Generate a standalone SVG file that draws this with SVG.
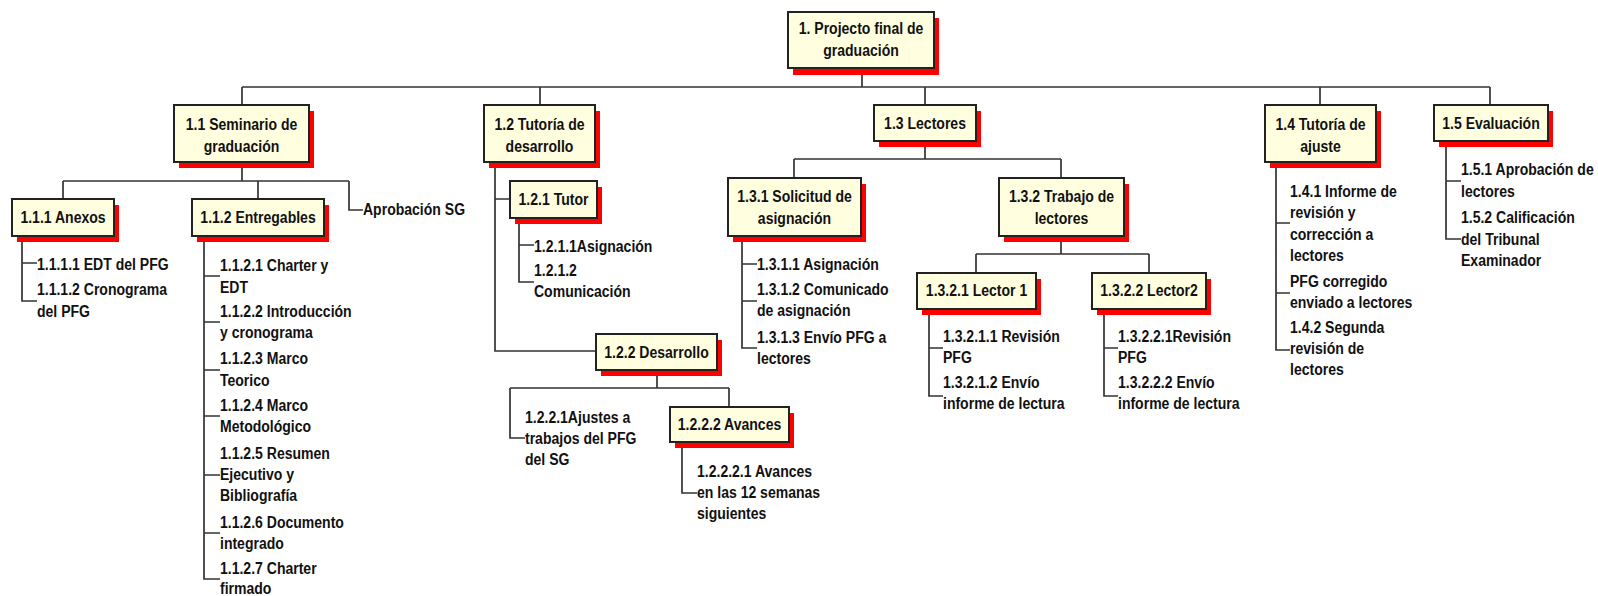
<svg xmlns="http://www.w3.org/2000/svg" width="1598" height="596" viewBox="0 0 1598 596">
  <style>
    .box { fill: #FFFFE0; stroke: #222; stroke-width: 2; }
    .shadow { fill: #FF0000; }
    .wire { fill: none; stroke: #333; stroke-width: 1.7; }
    text { font-family: "Liberation Sans", Arial, sans-serif; font-size: 17px; font-weight: bold; fill: #111;
           transform-box: fill-box; transform-origin: 0% 50%; transform: scaleX(0.825); }
    text.c { text-anchor: middle; transform-origin: 50% 50%; }
  </style>
  <rect width="1598" height="596" fill="#fff"/>

  <!-- connectors -->
  <g id="connectors" class="wire">
    <!-- root to level 1 -->
    <path d="M862 68V87M242 87H1490M242 87V105M540 87V105M925 87V105M1320 87V105M1490 87V105"/>
    <!-- 1.1 -->
    <path d="M242 162V181M63 181H349M63 181V199M258 181V199M349 181V210H363"/>
    <path d="M22 236V301H37M22 263H37"/>
    <path d="M204 236V579H220M204 276H220M204 322H220M204 370H220M204 416H220M204 475H220M204 533H220"/>
    <!-- 1.2 -->
    <path d="M495 162V351H596M495 199H510"/>
    <path d="M519 218V282H534M519 245H534"/>
    <path d="M657 370V388M510 388H729M510 388V438H525M729 388V407"/>
    <path d="M682 442V493H697"/>
    <!-- 1.3 -->
    <path d="M925 141V159M794 159H1061M794 159V178M1061 159V178"/>
    <path d="M742 236V348H757M742 264H757M742 301H757"/>
    <path d="M1061 236V254M976 254H1149M976 254V273M1149 254V273"/>
    <path d="M929 309V396H943M929 348H943"/>
    <path d="M1104 309V396H1118M1104 348H1118"/>
    <!-- 1.4 -->
    <path d="M1276 162V350H1290M1276 223H1290M1276 293H1290"/>
    <!-- 1.5 -->
    <path d="M1446 141V239H1461M1446 181H1461"/>
  </g>

  <!-- level 0 -->
  <g id="n1">
    <rect class="shadow" x="793" y="18" width="146" height="57"/>
    <rect class="box" x="788" y="12" width="146" height="56"/>
    <text class="c" x="861" y="34">1. Projecto final de</text>
    <text class="c" x="861" y="56">graduación</text>
  </g>

  <!-- level 1 -->
  <g id="n1-1">
    <rect class="shadow" x="179" y="111" width="135" height="57"/>
    <rect class="box" x="174" y="105" width="135" height="57"/>
    <text class="c" x="241.5" y="130">1.1 Seminario de</text>
    <text class="c" x="241.5" y="152">graduación</text>
  </g>
  <g id="n1-2">
    <rect class="shadow" x="489" y="111" width="111" height="57"/>
    <rect class="box" x="484" y="105" width="111" height="57"/>
    <text class="c" x="539.5" y="130">1.2 Tutoría de</text>
    <text class="c" x="539.5" y="152">desarrollo</text>
  </g>
  <g id="n1-3">
    <rect class="shadow" x="879" y="111" width="102" height="36"/>
    <rect class="box" x="874" y="105" width="102" height="36"/>
    <text class="c" x="925" y="129">1.3 Lectores</text>
  </g>
  <g id="n1-4">
    <rect class="shadow" x="1270" y="111" width="111" height="57"/>
    <rect class="box" x="1265" y="105" width="111" height="57"/>
    <text class="c" x="1320.5" y="130">1.4 Tutoría de</text>
    <text class="c" x="1320.5" y="152">ajuste</text>
  </g>
  <g id="n1-5">
    <rect class="shadow" x="1439" y="111" width="114" height="36"/>
    <rect class="box" x="1434" y="105" width="114" height="36"/>
    <text class="c" x="1491" y="129">1.5 Evaluación</text>
  </g>

  <!-- 1.1 branch -->
  <g id="n1-1-1">
    <rect class="shadow" x="17" y="205" width="102" height="37"/>
    <rect class="box" x="12" y="199" width="102" height="37"/>
    <text class="c" x="63" y="223">1.1.1 Anexos</text>
  </g>
  <g id="n1-1-1-x">
    <text x="37" y="270">1.1.1.1 EDT del PFG</text>
    <text x="37" y="295">1.1.1.2 Cronograma</text>
    <text x="37" y="317">del PFG</text>
  </g>
  <g id="n1-1-2">
    <rect class="shadow" x="197" y="205" width="132" height="37"/>
    <rect class="box" x="192" y="199" width="132" height="37"/>
    <text class="c" x="258" y="223">1.1.2 Entregables</text>
  </g>
  <g id="n1-1-2-x">
    <text x="220" y="271">1.1.2.1 Charter y</text>
    <text x="220" y="293">EDT</text>
    <text x="220" y="317">1.1.2.2 Introducción</text>
    <text x="220" y="338">y cronograma</text>
    <text x="220" y="364">1.1.2.3 Marco</text>
    <text x="220" y="386">Teorico</text>
    <text x="220" y="411">1.1.2.4 Marco</text>
    <text x="220" y="432">Metodológico</text>
    <text x="220" y="459">1.1.2.5 Resumen</text>
    <text x="220" y="480">Ejecutivo y</text>
    <text x="220" y="501">Bibliografía</text>
    <text x="220" y="528">1.1.2.6 Documento</text>
    <text x="220" y="549">integrado</text>
    <text x="220" y="574">1.1.2.7 Charter</text>
    <text x="220" y="594">firmado</text>
  </g>
  <g id="n1-1-3">
    <text x="363" y="215">Aprobación SG</text>
  </g>

  <!-- 1.2 branch -->
  <g id="n1-2-1">
    <rect class="shadow" x="515" y="187" width="87" height="37"/>
    <rect class="box" x="510" y="181" width="87" height="37"/>
    <text class="c" x="553.5" y="205">1.2.1 Tutor</text>
  </g>
  <g id="n1-2-1-x">
    <text x="534" y="252">1.2.1.1Asignación</text>
    <text x="534" y="276">1.2.1.2</text>
    <text x="534" y="297">Comunicación</text>
  </g>
  <g id="n1-2-2">
    <rect class="shadow" x="601" y="340" width="121" height="36"/>
    <rect class="box" x="596" y="334" width="121" height="36"/>
    <text class="c" x="656.5" y="358">1.2.2 Desarrollo</text>
  </g>
  <g id="n1-2-2-1">
    <text x="525" y="423">1.2.2.1Ajustes a</text>
    <text x="525" y="444">trabajos del PFG</text>
    <text x="525" y="465">del SG</text>
  </g>
  <g id="n1-2-2-2">
    <rect class="shadow" x="675" y="413" width="119" height="35"/>
    <rect class="box" x="670" y="407" width="119" height="35"/>
    <text class="c" x="729.5" y="430">1.2.2.2 Avances</text>
  </g>
  <g id="n1-2-2-2-1">
    <text x="697" y="477">1.2.2.2.1 Avances</text>
    <text x="697" y="498">en las 12 semanas</text>
    <text x="697" y="519">siguientes</text>
  </g>

  <!-- 1.3 branch -->
  <g id="n1-3-1">
    <rect class="shadow" x="733" y="184" width="133" height="58"/>
    <rect class="box" x="728" y="178" width="133" height="58"/>
    <text class="c" x="794.5" y="202">1.3.1 Solicitud de</text>
    <text class="c" x="794.5" y="224">asignación</text>
  </g>
  <g id="n1-3-1-x">
    <text x="757" y="270">1.3.1.1 Asignación</text>
    <text x="757" y="295">1.3.1.2 Comunicado</text>
    <text x="757" y="316">de asignación</text>
    <text x="757" y="343">1.3.1.3 Envío PFG a</text>
    <text x="757" y="364">lectores</text>
  </g>
  <g id="n1-3-2">
    <rect class="shadow" x="1004" y="184" width="125" height="58"/>
    <rect class="box" x="999" y="178" width="125" height="58"/>
    <text class="c" x="1061.5" y="202">1.3.2 Trabajo de</text>
    <text class="c" x="1061.5" y="224">lectores</text>
  </g>
  <g id="n1-3-2-1">
    <rect class="shadow" x="922" y="279" width="119" height="36"/>
    <rect class="box" x="917" y="273" width="119" height="36"/>
    <text class="c" x="976.5" y="296">1.3.2.1 Lector 1</text>
  </g>
  <g id="n1-3-2-1-x">
    <text x="943" y="342">1.3.2.1.1 Revisión</text>
    <text x="943" y="363">PFG</text>
    <text x="943" y="388">1.3.2.1.2 Envío</text>
    <text x="943" y="409">informe de lectura</text>
  </g>
  <g id="n1-3-2-2">
    <rect class="shadow" x="1097" y="279" width="114" height="36"/>
    <rect class="box" x="1092" y="273" width="114" height="36"/>
    <text class="c" x="1149" y="296">1.3.2.2 Lector2</text>
  </g>
  <g id="n1-3-2-2-x">
    <text x="1118" y="342">1.3.2.2.1Revisión</text>
    <text x="1118" y="363">PFG</text>
    <text x="1118" y="388">1.3.2.2.2 Envío</text>
    <text x="1118" y="409">informe de lectura</text>
  </g>

  <!-- 1.4 branch -->
  <g id="n1-4-x">
    <text x="1290" y="197">1.4.1 Informe de</text>
    <text x="1290" y="218">revisión y</text>
    <text x="1290" y="240">corrección a</text>
    <text x="1290" y="261">lectores</text>
    <text x="1290" y="287">PFG corregido</text>
    <text x="1290" y="308">enviado a lectores</text>
    <text x="1290" y="333">1.4.2 Segunda</text>
    <text x="1290" y="354">revisión de</text>
    <text x="1290" y="375">lectores</text>
  </g>

  <!-- 1.5 branch -->
  <g id="n1-5-x">
    <text x="1461" y="175">1.5.1 Aprobación de</text>
    <text x="1461" y="197">lectores</text>
    <text x="1461" y="223">1.5.2 Calificación</text>
    <text x="1461" y="245">del Tribunal</text>
    <text x="1461" y="266">Examinador</text>
  </g>
</svg>
